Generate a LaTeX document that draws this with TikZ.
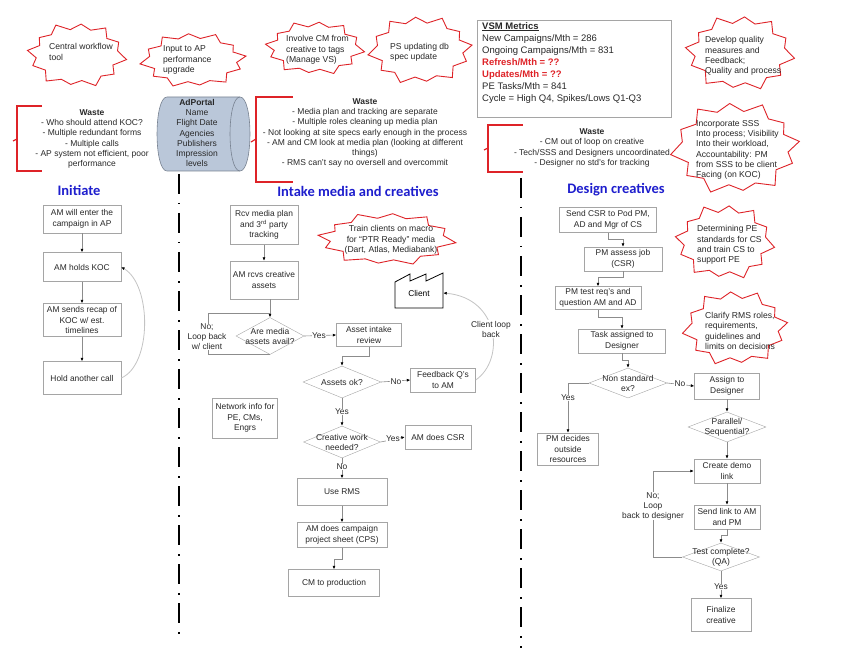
\documentclass[tikz,border=0pt]{standalone}
\usepackage{fontspec}
\setmainfont{Liberation Sans}
\newfontfamily\titlefont{Carlito}
\usetikzlibrary{shapes.geometric,arrows.meta}
\definecolor{boxgray}{RGB}{165,165,165}
\definecolor{linegray}{RGB}{140,140,140}
\definecolor{loopgray}{RGB}{195,195,195}
\definecolor{txtgray}{RGB}{40,40,40}
\definecolor{burstred}{RGB}{222,35,40}
\definecolor{titleblue}{RGB}{30,30,205}
\definecolor{portalfill}{RGB}{186,199,217}
\definecolor{portaldraw}{RGB}{120,130,145}
% explosion outline: centre x, centre y, width, height
\newcommand{\explosion}[4]{%
  \draw[burstline, shift={(#1,#2)}, xscale=#3, yscale=#4]
    (8:0.5) -- (23:0.39) -- (38:0.47) -- (53:0.40) -- (68:0.5) -- (83:0.39) -- (98:0.45) -- (113:0.40)
    -- (128:0.5) -- (144:0.39) -- (160:0.47) -- (174:0.41) -- (188:0.5) -- (201:0.40) -- (215:0.46)
    -- (230:0.40) -- (245:0.5) -- (260:0.39) -- (275:0.47) -- (290:0.40) -- (305:0.5) -- (320:0.39)
    -- (335:0.46) -- (351:0.41) -- cycle;}
\begin{document}
\begin{tikzpicture}[x=1pt,y=-1pt,
  box/.style={draw=boxgray, fill=white, align=center, text=txtgray, inner sep=1pt, font=\fontsize{8.4}{10.5}\selectfont},
  dec/.style={diamond, draw=boxgray, fill=white, inner sep=0pt},
  dectext/.style={align=center, text=txtgray, inner sep=0pt, font=\fontsize{8.5}{10}\selectfont},
  burstline/.style={draw=burstred, fill=white, line width=0.9pt, line join=miter},
  bursttext/.style={align=left, text=txtgray, inner sep=0pt, font=\fontsize{8.6}{10.3}\selectfont},
  waste/.style={align=center, text=txtgray, inner sep=0pt, font=\fontsize{8.5}{10.2}\selectfont},
  bracket/.style={draw=burstred, line width=1.2pt},
  sectitle/.style={text=titleblue, font=\titlefont\bfseries\fontsize{14.5}{16}\selectfont},
  lbl/.style={fill=white, text=txtgray, inner sep=0.5pt, align=center, font=\fontsize{8.4}{10}\selectfont},
  arr/.style={draw=linegray, line width=0.6pt, -{Latex[length=3.5pt,width=3pt,color=black]}},
  conn/.style={draw=linegray, line width=0.6pt},
  loopline/.style={draw=loopgray, line width=0.8pt, -{Latex[length=3.5pt,width=3pt,color=black]}},
  divider/.style={line width=2pt, dash pattern=on 20pt off 9pt on 1.5pt off 8.5pt}]
\useasboundingbox (0,0) rectangle (847,658);

\explosion{77}{55}{100}{66}
\node[bursttext, anchor=west] (tcentral) at (49,52){Central workflow\\tool};
\explosion{193}{60}{-107}{56}
\node[bursttext, anchor=west] (tap) at (163,60){Input to AP\\performance\\upgrade};
\explosion{315}{48}{100}{55}
\node[bursttext, anchor=west] (tcm) at (286,50){Involve CM from\\creative to tags\\(Manage VS)};
\explosion{420}{50}{-105}{70}
\node[bursttext, anchor=west] (tps) at (390,52){PS updating db\\spec update};
\explosion{740}{53}{110}{77}
\node[bursttext, anchor=west] (tqual) at (705,56){Develop quality\\measures and\\Feedback;\\Quality and process};
\explosion{735}{148}{-130}{95}
\node[bursttext, anchor=west] (tsss) at (696,150){Incorporate SSS\\Into process; Visibility\\Into their workload,\\Accountability: PM\\from SSS to be client\\Facing (on KOC)};
\explosion{725}{242}{100}{77}
\node[bursttext, anchor=west] (tpe) at (697,245){Determining PE\\standards for CS\\and train CS to\\support PE};
\explosion{735}{328}{-106}{77}
\node[bursttext, anchor=west] (trms) at (705,331){Clarify RMS roles,\\requirements,\\guidelines and\\limits on decisions};
\explosion{387}{239}{139}{54}
\node[bursttext, align=center] (ttrain) at (391,240){Train clients on macro\\for ``PTR Ready'' media\\(Dart, Atlas, Mediabank)};

\node[draw=boxgray, line width=0.8pt, minimum width=194pt, minimum height=97pt, anchor=north west] (vsm) at (477,20){};
\node[anchor=north west, align=left, inner sep=0pt, text=txtgray, font=\fontsize{9.5}{12}\selectfont] (vsmtext) at (482,22){\underline{\textbf{VSM Metrics}}\\New Campaigns/Mth = 286\\Ongoing Campaigns/Mth = 831\\\textcolor{burstred}{\textbf{Refresh/Mth = ??}}\\\textcolor{burstred}{\textbf{Updates/Mth = ??}}\\PE Tasks/Mth = 841\\Cycle = High Q4, Spikes/Lows Q1-Q3};

\draw[bracket] (42,106) -- (17,106) -- (17,171) -- (42,171);
\draw[bracket] (17,139) -- (13,141);
\node[waste] (waste1) at (92,139){\textbf{Waste}\\- Who should attend KOC?\\- Multiple redundant forms\\- Multiple calls\\- AP system not efficient, poor\\performance};
\draw[bracket] (293,97) -- (256,97) -- (256,182) -- (293,182);
\draw[bracket] (256,139) -- (251,142);
\node[waste] (waste2) at (365,133){\textbf{Waste}\\- Media plan and tracking are separate\\- Multiple roles cleaning up media plan\\- Not looking at site specs early enough in the process\\- AM and CM look at media plan (looking at different\\things)\\- RMS can't say no oversell and overcommit};
\draw[bracket] (523,125) -- (488,125) -- (488,172) -- (523,172);
\draw[bracket] (488,148) -- (484,150);
\node[waste] (waste3) at (592,148){\textbf{Waste}\\- CM out of loop on creative\\- Tech/SSS and Designers uncoordinated\\- Designer no std's for tracking};

\draw[draw=portaldraw, fill=portalfill, line width=0.6pt] (167,97) -- (240,97) .. controls (253.3,97) and (253.3,171) .. (240,171) -- (167,171) .. controls (153.7,171) and (153.7,97) .. (167,97) -- cycle;
\draw[draw=portaldraw, line width=0.6pt] (240,97) .. controls (226.7,97) and (226.7,171) .. (240,171);
\node[align=center, inner sep=0pt, text=txtgray, font=\fontsize{8.5}{10.3}\selectfont] (portal) at (197,133){\textbf{AdPortal}\\Name\\Flight Date\\Agencies\\Publishers\\Impression\\levels};

\coordinate (dv1a) at (179,174);
\coordinate (dv1b) at (179,640);
\coordinate (dv2a) at (521,178);
\coordinate (dv2b) at (521,648);
\draw[divider] (dv1a) -- (dv1b);
\draw[divider] (dv2a) -- (dv2b);

\node[sectitle] (tinit) at (79,190){Initiate};
\node[sectitle] (tintake) at (358,191){Intake media and creatives};
\node[sectitle] (tdesign) at (616,190){Design creatives};

\node[box, minimum width=78pt, minimum height=28pt] (i1) at (82,219){AM will enter the\\campaign in AP};
\node[box, minimum width=78pt, minimum height=29pt] (i2) at (82,267){AM holds KOC};
\node[box, minimum width=78pt, minimum height=33pt] (i3) at (82,320){AM sends recap of\\KOC w/ est.\\timelines};
\node[box, minimum width=78pt, minimum height=33pt] (i4) at (82,378){Hold another call};
\draw[arr](i1) -- (i2);
\draw[arr](i2) -- (i3);
\draw[arr](i3) -- (i4);
\draw[loopline](i4.east) .. controls (152,365) and (152,285) .. (i2.east);

\node[box, minimum width=68pt, minimum height=39pt] (m1) at (264,225){Rcv media plan\\and 3\textsuperscript{rd} party\\tracking};
\node[box, minimum width=68pt, minimum height=38pt] (m2) at (264,280){AM rcvs creative\\assets};
\draw[arr](m1) -- (m2);
\node[dec, minimum width=68pt, minimum height=37pt, label={[dectext]center:Are media\\assets avail?}] (d1) at (270,336){};
\draw[arr](m2.south -| d1.north) -- (d1.north);
\coordinate (lp1) at (208,313);
\draw[conn](d1.south) -| (lp1) -- (lp1 -| d1.north);
\node[lbl] (lno1) at (207,337){No;\\Loop back\\w/ client};
\node[box, minimum width=65pt, minimum height=23pt] (a1) at (369,335){Asset intake\\review};
\draw[arr](d1.east) -- (a1.west);
\node[lbl] (lyes1) at (319,336){Yes};
\node[dec, minimum width=78pt, minimum height=32pt, label={[dectext]center:Assets ok?}] (d2) at (342,382){};
\draw[arr](a1.south) -- ++(0,10) -| (d2.north);
\node[box, minimum width=65pt, minimum height=24pt] (fb) at (443,380){Feedback Q's\\to AM};
\draw[arr](d2.east) -- (fb.west);
\node[lbl] (lno2) at (396,382){No};
\draw[line width=0.8pt, fill=white] (395,282) -- (410,274) -- (410,281) -- (426,274) -- (426,281) -- (443,273) -- (443,308) -- (395,308) -- cycle;
\node[minimum width=48pt, minimum height=26pt, inner sep=0pt, font=\fontsize{8.4}{10}\selectfont] (client) at (419,293){Client};
\draw[loopline](fb.east) .. controls (505,360) and (500,298) .. (client.east);
\node[lbl] (lclient) at (491,329){Client loop\\back};
\node[dec, minimum width=77pt, minimum height=32pt, label={[dectext]center:Creative work\\needed?}] (d3) at (342,442){};
\draw[arr](d2.south) -- (d3.north);
\node[lbl] (lyes2) at (342,412){Yes};
\node[box, minimum width=66pt, minimum height=24pt] (csr) at (438,437){AM does CSR};
\draw[arr](d3.east) -- (csr.west);
\node[lbl] (lyes3) at (393,439){Yes};
\node[box, minimum width=90pt, minimum height=27pt] (rms) at (342,492){Use RMS};
\draw[arr](d3.south) -- (rms.north);
\node[lbl] (lno3) at (342,467){No};
\node[box, minimum width=90pt, minimum height=25pt] (cps) at (342,535){AM does campaign\\project sheet (CPS)};
\draw[arr](rms) -- (cps);
\node[box, minimum width=91pt, minimum height=27pt] (prod) at (334,583){CM to production};
\draw[arr](cps.south) -- ++(0,12) -| (prod.north);
\node[box, minimum width=65pt, minimum height=40pt] (net) at (245,418){Network info for\\PE, CMs,\\Engrs};

\node[box, minimum width=97pt, minimum height=25pt] (s1) at (608,220){Send CSR to Pod PM,\\AD and Mgr of CS};
\node[box, minimum width=78pt, minimum height=24pt] (s2) at (623,259){PM assess job\\(CSR)};
\node[box, minimum width=86pt, minimum height=23pt] (s3) at (598,298){PM test req's and\\question AM and AD};
\node[box, minimum width=87pt, minimum height=24pt] (s4) at (622,341){Task assigned to\\Designer};
\draw[arr](s1.south) -- ++(0,7) -| (s2.north);
\draw[arr](s2.south) -- ++(0,6) -| (s3.north);
\draw[arr](s3.south) -- ++(0,8) -| (s4.north);
\node[dec, minimum width=78pt, minimum height=30pt, label={[dectext]center:Non standard\\ex?}] (d4) at (628,383){};
\draw[arr](s4.south) -- ++(0,7) -| (d4.north);
\node[box, minimum width=61pt, minimum height=32pt] (pmd) at (568,449){PM decides\\outside\\resources};
\draw[arr](d4.west) -| (pmd.north);
\node[lbl] (lyes4) at (568,398){Yes};
\node[box, minimum width=65pt, minimum height=26pt] (asg) at (727,386){Assign to\\Designer};
\draw[arr](d4.east) -- (asg.west);
\node[lbl] (lno4) at (680,384){No};
\node[dec, minimum width=78pt, minimum height=30pt, label={[dectext]center:Parallel/\\Sequential?}] (d5) at (727,427){};
\draw[arr](asg) -- (d5);
\node[box, minimum width=66pt, minimum height=24pt] (demo) at (727,471){Create demo\\link};
\draw[arr](d5) -- (demo);
\node[box, minimum width=66pt, minimum height=24pt] (send) at (727,517){Send link to AM\\and PM};
\draw[arr](demo) -- (send);
\node[dec, minimum width=77pt, minimum height=28pt, label={[dectext]center:Test complete?\\(QA)}] (d6) at (721,557){};
\draw[arr](send.south) -- ++(0,6) -| (d6.north);
\draw[arr](d6.west) -- ++(-29,0) |- (demo.west);
\node[lbl] (lno5) at (653,506){No;\\Loop\\back to designer};
\node[box, minimum width=60pt, minimum height=33pt] (fin) at (721,615){Finalize\\creative};
\draw[arr](d6) -- (fin);
\node[lbl] (lyes5) at (721,587){Yes};
\end{tikzpicture}
\end{document}
